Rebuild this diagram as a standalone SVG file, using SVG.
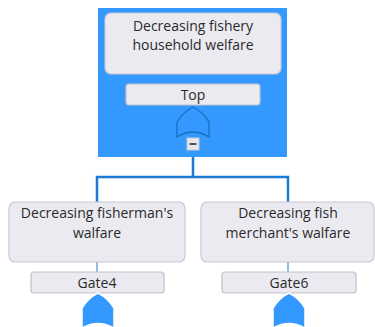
<svg xmlns="http://www.w3.org/2000/svg" width="375" height="327" viewBox="0 0 375 327">
<style>
.box{fill:#ebeaf0;stroke:#c9c8d2;stroke-width:1.2}
.lbl{fill:#ebeaf0;stroke:#c2c1cc;stroke-width:1.2}
.t{font-family:"Open Sans","Noto Sans","DejaVu Sans",sans-serif;font-size:14px;fill:#2a2a2a;text-anchor:middle}
.conn{fill:none;stroke:#1b7bd4;stroke-width:2.5}
.thin{fill:none;stroke:#4a90d0;stroke-width:1.2}
.gateO{fill:none;stroke:#1b6fc0;stroke-width:1.3}
.gateF{fill:#3399ff;stroke:#ffffff;stroke-width:1.5}
</style>
<rect x="0" y="0" width="375" height="327" fill="#ffffff"/>
<g id="connectors">
<path class="conn" d="M193 150 V177 M97 202 V177 H288 V202"/>
<path class="thin" d="M193 74 V84 M97 262 V272 M288 262 V272"/>
</g>
<g id="top">
<rect x="98" y="8" width="189" height="149" fill="#3399ff"/>
<rect class="box" x="105" y="13" width="176" height="61" rx="6"/>
<text class="t" x="193" y="31">Decreasing fishery</text>
<text class="t" x="193" y="50">household welfare</text>
<rect class="lbl" x="126" y="84" width="134" height="21" rx="3"/>
<text class="t" x="193" y="100">Top</text>
<path class="gateO" d="M177 137 V122 Q183 112 193 107 Q203 112 209 122 V137 Q193 127 177 137 Z"/>
<rect x="187" y="138" width="12" height="12" fill="#e6e6ec" stroke="#c8c8d0" stroke-width="1"/>
<rect x="189.5" y="143" width="7" height="2" fill="#555555"/>
</g>
<g id="gate4">
<rect class="box" x="9" y="202" width="176" height="60" rx="6"/>
<text class="t" x="97" y="218">Decreasing fisherman's</text>
<text class="t" x="97" y="238">walfare</text>
<rect class="lbl" x="31" y="272" width="133" height="21" rx="3"/>
<text class="t" x="97" y="288">Gate4</text>
<path class="gateF" d="M82 328 V308 Q88 298 98 293 Q108 298 114 308 V328 Q98 319 82 328 Z"/>
</g>
<g id="gate6">
<rect class="box" x="201" y="202" width="173" height="60" rx="6"/>
<text class="t" x="288" y="218">Decreasing fish</text>
<text class="t" x="288" y="238">merchant's walfare</text>
<rect class="lbl" x="222" y="272" width="134" height="21" rx="3"/>
<text class="t" x="289" y="288">Gate6</text>
<path class="gateF" d="M273 328 V308 Q279 298 289 293 Q299 298 305 308 V328 Q289 319 273 328 Z"/>
</g>
</svg>
